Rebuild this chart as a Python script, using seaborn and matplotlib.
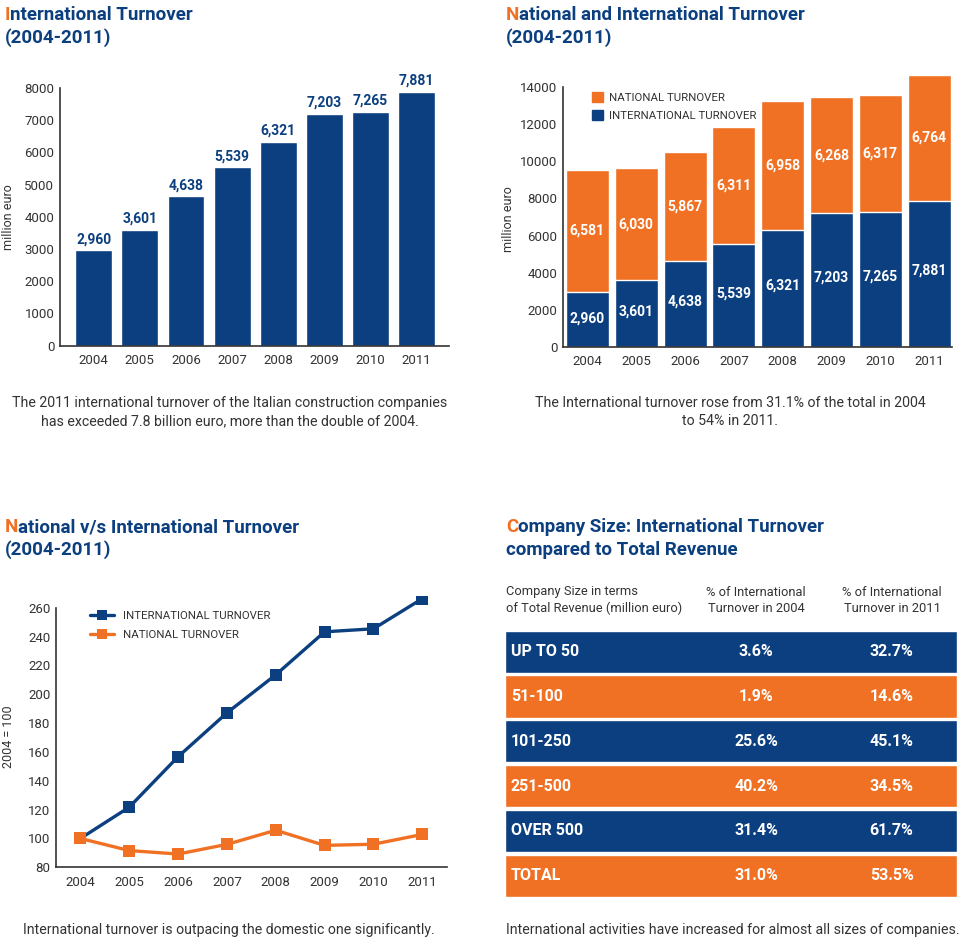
import matplotlib
matplotlib.use('Agg')
import numpy as np
import pandas as pd
import matplotlib.pyplot as plt
import seaborn as sns
from matplotlib.patches import Patch
from matplotlib.lines import Line2D
from matplotlib.text import Annotation

# Data ##########################################################
YEARS = ['2004', '2005', '2006', '2007', '2008', '2009', '2010', '2011']
INTERNATIONAL = [2960, 3601, 4638, 5539, 6321, 7203, 7265, 7881]
NATIONAL = [6581, 6030, 5867, 6311, 6958, 6268, 6317, 6764]
INDEX_INTERNATIONAL = [100, 121.7, 156.7, 187.1, 213.5, 243.3, 245.4, 266.3]
INDEX_NATIONAL = [100, 91.6, 89.2, 95.9, 105.7, 95.2, 96.0, 102.8]
SIZE_CLASSES = ['UP TO 50', '51-100', '101-250', '251-500', 'OVER 500', 'TOTAL']
SHARE_2004 = [3.6, 1.9, 25.6, 40.2, 31.4, 31.0]
SHARE_2011 = [32.7, 14.6, 45.1, 34.5, 61.7, 53.5]

BLUE = '#0b3f7f'
ORANGE = '#f07124'
GREY = '#333333'
W, H = 960, 939

sns.set_theme(style='white')
plt.rcParams['font.family'] = ['Roboto', 'DejaVu Sans']
plt.rcParams['axes.edgecolor'] = GREY
plt.rcParams['axes.linewidth'] = 1.2
plt.rcParams['xtick.color'] = GREY
plt.rcParams['ytick.color'] = GREY
plt.rcParams['xtick.labelsize'] = 9.5
plt.rcParams['ytick.labelsize'] = 9.5

fig = plt.figure(figsize=(W / 100, H / 100), dpi=100)


def rect(l, t, r, b):
    return [l / W, 1 - b / H, (r - l) / W, (b - t) / H]


def fx(x):
    return x / W


def fy(y):
    return 1 - y / H


def title(x, y1, y2, line1, line2):
    # first letter in orange, rest of the title in blue
    kw = dict(fontsize=13.5, fontweight='bold')
    first = fig.text(fx(x), fy(y1), line1[0], color=ORANGE, va='baseline', **kw)
    fig.add_artist(Annotation(line1[1:], xy=(1, 0), xycoords=first,
                              va='bottom', ha='left', color=BLUE, **kw))
    fig.text(fx(x), fy(y2), line2, color=BLUE, va='baseline', **kw)


def caption(x, y, text, ha):
    fig.text(fx(x), fy(y), text, fontsize=10.2, color=GREY, ha=ha, va='center',
             linespacing=1.4)


def base_axes(ax):
    sns.despine(ax=ax)
    ax.tick_params(axis='y', direction='in', length=7, width=1.1, pad=4)
    ax.tick_params(axis='x', which='major', length=0, pad=6)
    ax.set_xlabel('')


# Top left: international turnover ##############################
ax1 = fig.add_axes(rect(60, 88, 449, 345.6))
df1 = pd.DataFrame({'year': YEARS, 'value': INTERNATIONAL})
sns.barplot(data=df1, x='year', y='value', color=BLUE, saturation=1,
            width=0.8, ax=ax1)
ax1.bar_label(ax1.containers[0], labels=[f'{v:,}' for v in INTERNATIONAL],
              padding=3, color=BLUE, fontweight='bold', fontsize=10)
ax1.set_xlim(-0.73, 7.7)
ax1.set_ylim(0, 8000)
ax1.set_yticks(range(0, 8001, 1000))
base_axes(ax1)
ax1.set_xticks([7.7], minor=True)
ax1.tick_params(axis='x', which='minor', direction='in', length=5, width=1.1)
ax1.set_ylabel('million euro', fontsize=9, color=GREY)
ax1.yaxis.set_label_coords((15 - 60) / (449 - 60), 0.5)

title(5, 20, 43, 'International Turnover', '(2004-2011)')
caption(230, 412, 'The 2011 international turnover of the Italian construction companies\n'
        'has exceeded 7.8 billion euro, more than the double of 2004.', 'center')

# Top right: national and international #########################
ax2 = fig.add_axes(rect(563, 74.3, 951.7, 346.7))
df2 = pd.DataFrame({'year': YEARS, 'international': INTERNATIONAL,
                    'national': NATIONAL})
df2['total'] = df2['international'] + df2['national']
sns.barplot(data=df2, x='year', y='total', color=ORANGE, saturation=1,
            width=0.88, ax=ax2)
sns.barplot(data=df2, x='year', y='international', color=BLUE, saturation=1,
            width=0.88, ax=ax2)
for i, (vi, vn) in enumerate(zip(INTERNATIONAL, NATIONAL)):
    ax2.text(i, vi * 0.52, f'{vi:,}', color='white', fontweight='bold',
             fontsize=10, ha='center', va='center')
    ax2.text(i, vi + vn * 0.5, f'{vn:,}', color='white', fontweight='bold',
             fontsize=10, ha='center', va='center')
ax2.set_xlim(-0.5, 7.46)
ax2.set_ylim(0, 14700)
ax2.set_yticks(range(0, 14001, 2000))
base_axes(ax2)
ax2.spines['left'].set_bounds(0, 14000)
ax2.set_xticks(list(np.arange(0.5, 7, 1)) + [7.46], minor=True)
ax2.tick_params(axis='x', which='minor', direction='in', length=4, width=1.1)
ax2.set_ylabel('million euro', fontsize=9, color=GREY)
ax2.yaxis.set_label_coords((515 - 563) / (951.7 - 563), 0.47)
ax2.legend(handles=[Patch(color=ORANGE, label='NATIONAL TURNOVER'),
                    Patch(color=BLUE, label='INTERNATIONAL TURNOVER')],
           loc='upper left', bbox_to_anchor=(fx(586), fy(86)),
           bbox_transform=fig.transFigure, frameon=False, fontsize=8.2,
           handlelength=0.95, handleheight=0.95, handletextpad=0.6,
           labelspacing=0.7, borderpad=0, labelcolor=GREY)

title(506, 20, 43, 'National and International Turnover', '(2004-2011)')
caption(730, 412, 'The International turnover rose from 31.1% of the total in 2004\n'
        'to 54% in 2011.', 'center')

# Bottom left: index lines ######################################
ax3 = fig.add_axes(rect(56, 596.2, 446.7, 867.3))
df3 = pd.DataFrame({
    'pos': list(range(len(YEARS))) * 2,
    'value': INDEX_INTERNATIONAL + INDEX_NATIONAL,
    'series': ['INTERNATIONAL TURNOVER'] * len(YEARS) + ['NATIONAL TURNOVER'] * len(YEARS),
})
palette = {'INTERNATIONAL TURNOVER': BLUE, 'NATIONAL TURNOVER': ORANGE}
sns.lineplot(data=df3, x='pos', y='value', hue='series', palette=palette,
             hue_order=list(palette), marker='s', markersize=8,
             markeredgewidth=0, linewidth=2.4, ax=ax3, legend=False)
ax3.set_xlim(-0.5, 7.5)
ax3.set_ylim(80, 268)
ax3.set_yticks(range(80, 261, 20))
base_axes(ax3)
ax3.spines['left'].set_bounds(80, 260)
ax3.set_xticks(range(len(YEARS)))
ax3.set_xticklabels(YEARS)
ax3.set_xticks(np.arange(0.5, 8, 1), minor=True)
ax3.tick_params(axis='x', which='minor', direction='in', length=6, width=1.1)
ax3.set_ylabel('2004 = 100', fontsize=9, color=GREY)
ax3.yaxis.set_label_coords((15 - 56) / (446.7 - 56), (867.3 - 737) / (867.3 - 596.2))
handles = [Line2D([], [], color=palette[k], marker='s', markersize=7,
                  markeredgewidth=0, linewidth=2.4, label=k) for k in palette]
ax3.legend(handles=handles, loc='upper left', bbox_to_anchor=(fx(84), fy(605)),
           bbox_transform=fig.transFigure, frameon=False, fontsize=8.2,
           handlelength=2.1, handletextpad=0.8, labelspacing=0.85,
           borderpad=0, labelcolor=GREY)

title(5, 532, 555, 'National v/s International Turnover', '(2004-2011)')
caption(23, 930, 'International turnover is outpacing the domestic one significantly.', 'left')

# Bottom right: company size table ##############################
ax4 = fig.add_axes(rect(505, 630.7, 956.7, 896.7))
n = len(SIZE_CLASSES)
ax4.barh(np.arange(n), 1.0, height=0.94, left=0,
         color=[BLUE if i % 2 == 0 else ORANGE for i in range(n)])
ax4.set_xlim(0, 1)
ax4.set_ylim(n - 0.53, -0.47)
ax4.axis('off')
cell = dict(color='white', fontweight='bold', fontsize=11.5, va='center')
for i, (name, a, b) in enumerate(zip(SIZE_CLASSES, SHARE_2004, SHARE_2011)):
    ax4.text(0.013, i, name, ha='left', **cell)
    ax4.text(0.556, i, f'{a:.1f}%', ha='center', **cell)
    ax4.text(0.856, i, f'{b:.1f}%', ha='center', **cell)

head = dict(fontsize=9.3, color=GREY, va='center', linespacing=1.3)
fig.text(fx(506), fy(600), 'Company Size in terms\nof Total Revenue (million euro)',
         ha='left', **head)
fig.text(fx(756), fy(600), '% of International\nTurnover in 2004', ha='center', **head)
fig.text(fx(892), fy(600), '% of International\nTurnover in 2011', ha='center', **head)

title(506, 532, 555, 'Company Size: International Turnover', 'compared to Total Revenue')
caption(506, 930, 'International activities have increased for almost all sizes of companies.', 'left')

fig.savefig('out.png', dpi=100)
